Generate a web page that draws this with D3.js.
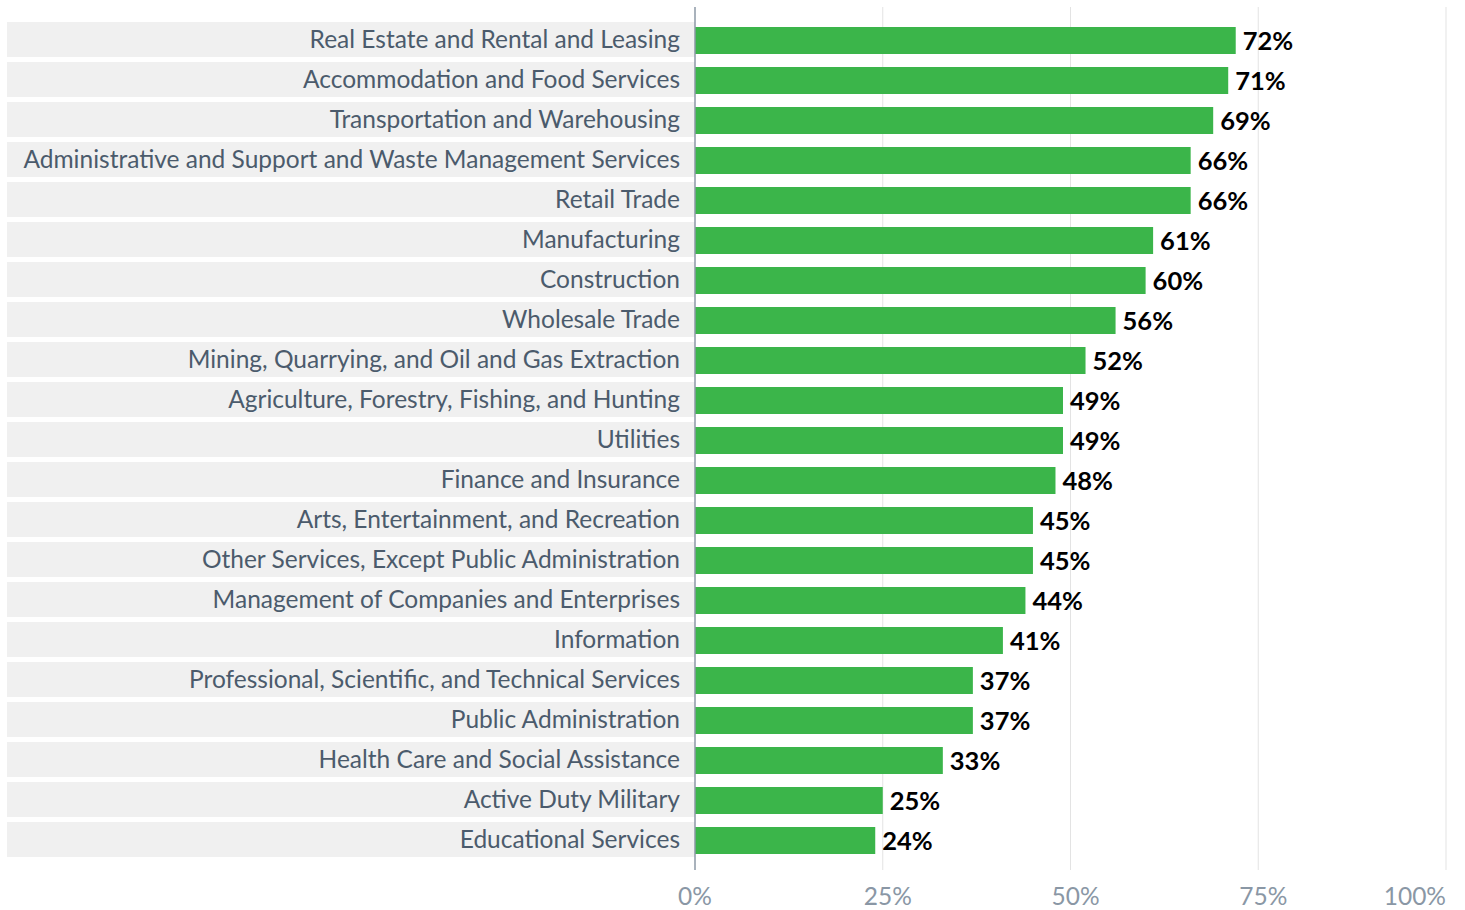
<!DOCTYPE html>
<html>
<head>
<meta charset="utf-8">
<script src="https://cdn.jsdelivr.net/npm/d3@7"></script>
<style>
  body { margin: 0; background: #fff; }
  svg { display: block; }
</style>
</head>
<body>
<div id="chart"></div>
<script>
var categories = [
  "Real Estate and Rental and Leasing",
  "Accommodation and Food Services",
  "Transportation and Warehousing",
  "Administrative and Support and Waste Management Services",
  "Retail Trade",
  "Manufacturing",
  "Construction",
  "Wholesale Trade",
  "Mining, Quarrying, and Oil and Gas Extraction",
  "Agriculture, Forestry, Fishing, and Hunting",
  "Utilities",
  "Finance and Insurance",
  "Arts, Entertainment, and Recreation",
  "Other Services, Except Public Administration",
  "Management of Companies and Enterprises",
  "Information",
  "Professional, Scientific, and Technical Services",
  "Public Administration",
  "Health Care and Social Assistance",
  "Active Duty Military",
  "Educational Services"
];
var values = [72, 71, 69, 66, 66, 61, 60, 56, 52, 49, 49, 48, 45, 45, 44, 41, 37, 37, 33, 25, 24];
var tickValues = [0, 25, 50, 75, 100];

var width = 1465, height = 910;
var plotLeft = 695, plotRight = 1446, plotTop = 20, rowH = 40;

var svg = d3.select("#chart").append("svg")
  .attr("width", width)
  .attr("height", height);

var x = d3.scaleLinear().domain([0, 100]).range([plotLeft, plotRight]);
var y = d3.scaleBand().domain(categories).range([plotTop, plotTop + rowH * categories.length]).padding(0);

// grid lines
svg.selectAll(".grid")
  .data(tickValues.slice(1))
  .enter()
  .append("line")
  .attr("x1", d => x(d)).attr("x2", d => x(d))
  .attr("y1", 7).attr("y2", 870)
  .attr("stroke", "#e3e3e3")
  .attr("stroke-width", 1);

// label backgrounds
svg.selectAll(".bg")
  .data(categories)
  .enter()
  .append("rect")
  .attr("x", 7)
  .attr("y", d => y(d) + 2)
  .attr("width", plotLeft - 7)
  .attr("height", 35)
  .attr("fill", "#f0f0f0");

svg.selectAll(".cat")
  .data(categories)
  .enter()
  .append("text")
  .attr("x", 680)
  .attr("y", d => y(d) + rowH / 2 - 1)
  .attr("dy", "0.35em")
  .attr("text-anchor", "end")
  .style("font-family", "Lato, 'Open Sans', sans-serif")
  .style("font-size", "24.5px")
  .style("fill", "#4b5b6c")
  .text(d => d);

// bars
svg.selectAll(".bar")
  .data(values)
  .enter()
  .append("rect")
  .attr("x", x(0))
  .attr("y", (d, i) => y(categories[i]) + 7)
  .attr("width", d => x(d) - x(0))
  .attr("height", 27)
  .attr("fill", "#3bb54a");

svg.selectAll(".val")
  .data(values)
  .enter()
  .append("text")
  .attr("x", d => x(d) + 7)
  .attr("y", (d, i) => y(categories[i]) + 21)
  .attr("dy", "0.35em")
  .style("font-family", "Lato, 'Open Sans', sans-serif")
  .style("font-weight", "bold")
  .style("font-size", "25.5px")
  .style("fill", "#000")
  .text(d => d + "%");

// axis line
svg.append("line")
  .attr("x1", x(0)).attr("x2", x(0))
  .attr("y1", 7).attr("y2", 870)
  .attr("stroke", "#8c99a6")
  .attr("stroke-width", 1.5);

// tick labels
svg.selectAll(".tick")
  .data(tickValues)
  .enter()
  .append("text")
  .attr("x", d => d === 100 ? x(d) : x(d) + (d === 0 ? 0 : 5))
  .attr("y", 896)
  .attr("dy", "0.35em")
  .attr("text-anchor", d => d === 100 ? "end" : "middle")
  .style("font-family", "Lato, 'Open Sans', sans-serif")
  .style("font-size", "24.5px")
  .style("fill", "#8a97a5")
  .text(d => d + "%");
</script>
</body>
</html>
